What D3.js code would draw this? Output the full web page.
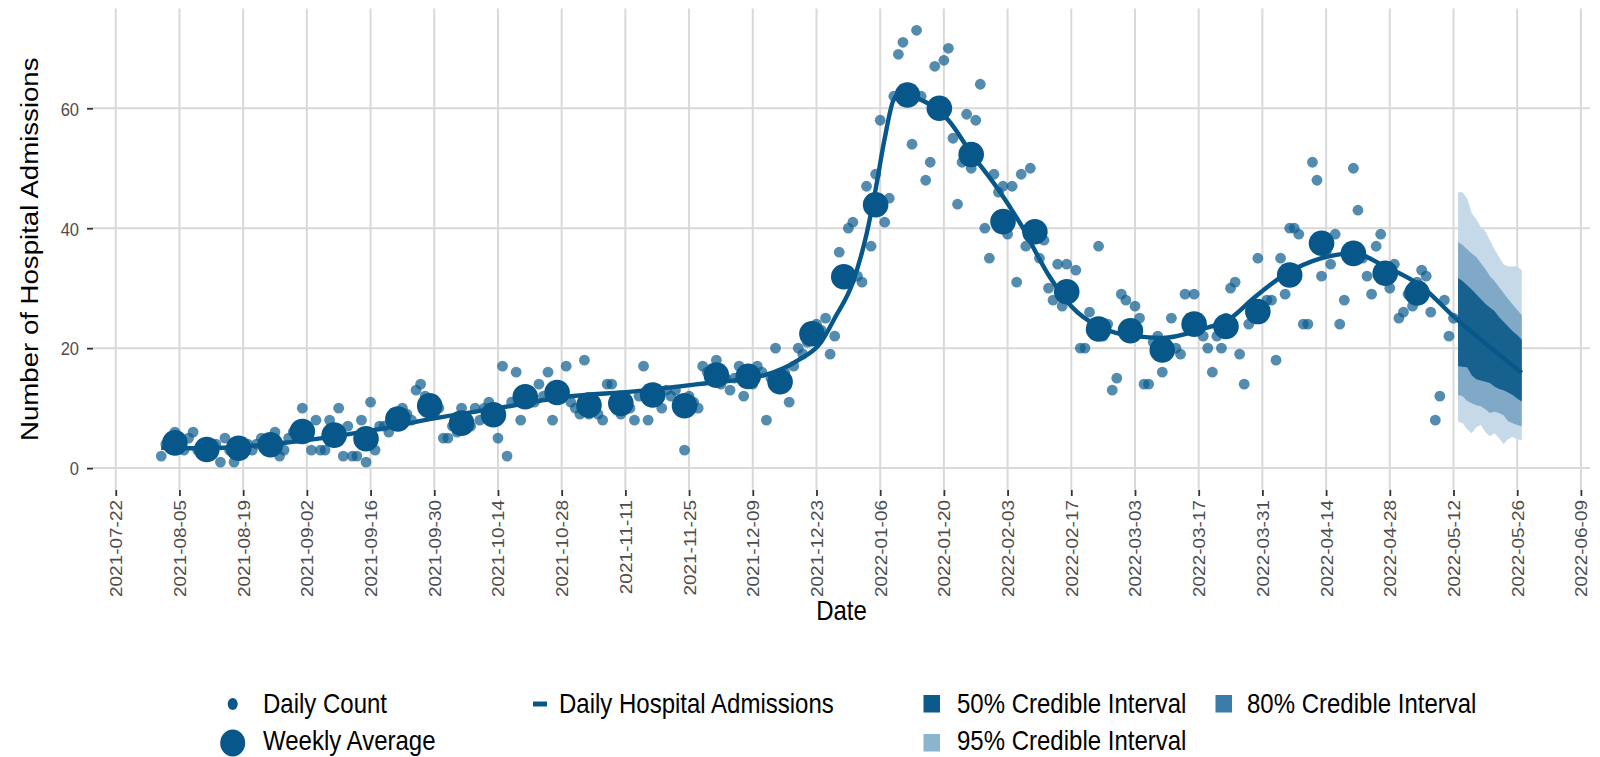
<!DOCTYPE html>
<html><head><meta charset="utf-8">
<script src="https://cdn.jsdelivr.net/npm/d3@7"></script>
<style>html,body{margin:0;padding:0;background:#fff;} svg{display:block;font-family:"Liberation Sans",Arial,sans-serif;}</style>
</head><body><svg id="c" width="1600" height="757"></svg>
<script>
// ---------------- DATA ----------------
const dailyStart = "2021-08-01";
const dailyCounts = [
  2,4,5,6,4,3,5,   6,3,3,2,3,4,1,   5,3,1,3,4,4,3,   4,5,4,3,6,2,3,
  5,6,5,10,6,3,8,  3,3,8,5,10,2,7,  2,2,8,1,11,3,7,  7,6,8,9,10,9,8,
  13,14,12,10,9,10,5, 5,7,6,10,8,7,10, 8,10,11,9,5,17,2, 11,16,8,12,12,11,14,
  12,16,8,13,12,17,11, 10,9,18,9,10,9,8, 14,14,10,9,11,10,8, 12,17,8,13,12,10,13,
  12,13,11,3,12,11,10, 17,16,15,18,14,15,13, 15,17,12,16,14,17,16, 8,15,20,14,16,11,17,
  20,19,21,22,24,23,25, 19,22,36,33,40,41,32, 31,47,37,49,58,41,45, 62,69,71,63,54,73,62,
  48,51,67,60,68,70,55, 44,51,59,50,58,64,40, 35,49,46,47,39,47,31, 49,37,50,40,35,38,30,
  28,34,27,34,30,33,20, 20,26,23,37,22,24,13, 15,29,28,22,27,25,14, 14,21,22,16,20,25,20,
  19,29,25,29,24,22,20, 16,22,20,25,30,31,19, 14,24,27,35,27,28,28, 18,35,29,40,40,39,24,
  24,51,48,32,36,34,39, 24,28,36,50,43,35,32, 29,37,39,33,30,34,25, 26,29,27,31,33,32,26,
  8,12,28,22,25
];
const weeklyStart = "2021-08-04";
const weeklyAverages = [
  4.2,3.1,3.3,3.9,6.1,5.5,4.9,8.2,10.4,7.5,
  8.9,11.9,12.6,10.5,10.8,12.2,10.4,15.5,15.3,14.4,
  22.4,31.9,43.9,62.2,60.0,52.3,41.1,39.4,29.4,23.2,
  22.9,19.7,24.0,23.6,26.1,32.2,37.5,35.8,32.5,29.2
];
const lineDates = [
  "2021-08-01","2021-08-11","2021-08-29","2021-09-14","2021-09-20","2021-09-30",
  "2021-10-14","2021-10-29","2021-11-13","2021-11-27","2021-12-12","2021-12-19",
  "2021-12-24","2021-12-27","2021-12-31","2022-01-03","2022-01-05","2022-01-07",
  "2022-01-09","2022-01-10","2022-01-15","2022-01-21","2022-01-26","2022-02-01",
  "2022-02-06","2022-02-12","2022-02-17","2022-02-23","2022-03-03","2022-03-09",
  "2022-03-17","2022-03-24","2022-03-29","2022-04-05","2022-04-13","2022-04-20",
  "2022-04-27","2022-05-05","2022-05-12","2022-05-19","2022-05-27"
];
const lineValues = [
  3.4,3.3,4.3,6.0,6.8,8.3,
  10.0,11.9,12.8,14.0,15.6,18.0,
  21.0,25.0,31.0,39.0,46.5,55.0,
  61.5,62.2,61.4,58.0,52.5,46.4,
  40.5,32.2,27.0,23.6,22.0,21.7,
  23.0,25.0,28.3,32.3,35.0,35.8,
  33.6,30.3,25.3,20.8,15.9
];
const bandStart = "2022-05-13";
const lo95 = [7.8,7.5,6.5,5.8,6.8,7.2,6.0,5.3,5.8,5.0,4.0,4.8,5.2,4.8,4.7];
const hi95 = [46.0,46.0,45.0,42.5,41.5,40.2,39.5,38.0,36.5,35.2,34.0,33.6,33.6,33.6,33.0];
const lo80 = [12.2,12.0,11.2,10.8,10.5,10.3,9.8,9.2,9.4,9.2,8.8,7.8,7.5,7.2,7.0];
const hi80 = [37.7,37.2,36.5,35.8,35.2,34.2,33.2,32.0,31.2,30.2,29.2,28.2,27.3,26.4,25.5];
const lo50 = [17.0,16.9,16.8,15.5,14.8,14.6,14.4,14.2,13.6,13.2,13.0,12.6,12.2,11.6,11.1];
const hi50 = [31.7,31.2,30.5,29.8,29.0,28.2,27.4,26.8,26.2,25.2,24.4,23.6,22.8,22.2,21.4];
const yTicks = [0,20,40,60];
const xTickLabels = [
  "2021-07-22","2021-08-05","2021-08-19","2021-09-02","2021-09-16","2021-09-30",
  "2021-10-14","2021-10-28","2021-11-11","2021-11-25","2021-12-09","2021-12-23",
  "2022-01-06","2022-01-20","2022-02-03","2022-02-17","2022-03-03","2022-03-17",
  "2022-03-31","2022-04-14","2022-04-28","2022-05-12","2022-05-26","2022-06-09"
];
const xDomainLabels = ["2021-07-17","2022-06-11"];
const yDomain = [-3.65, 76.65];

// ---------------- CHART ----------------
const parse = d3.utcParse("%Y-%m-%d");
const svg = d3.select("#c");
const P = {left:93, right:1590, top:8.4, bottom:490};
const SY = 1.15; // vertical stretch of glyphs
const C = {dark:"#07578a", pt:"#0b5b8e", grid:"#d9d9d9", tick:"#4d4d4d",
           b95:"#c5d9e8", b80:"#80a9c8", b50:"#17618f",
           l50:"#0c5a8c", l80:"#3b7da9", l95:"#8bb4cf"};

const x = d3.scaleUtc().domain(xDomainLabels.map(parse)).range([P.left, P.right]);
const y = d3.scaleLinear().domain(yDomain).range([P.bottom, P.top]);

// grid
const g = svg.append("g");
g.selectAll(".hg").data(yTicks).enter().append("line")
  .attr("x1", P.left).attr("x2", P.right)
  .attr("y1", d=>y(d)).attr("y2", d=>y(d))
  .attr("stroke", C.grid).attr("stroke-width", 2);
g.selectAll(".vg").data(xTickLabels).enter().append("line")
  .attr("x1", d=>x(parse(d))).attr("x2", d=>x(parse(d)))
  .attr("y1", P.top).attr("y2", P.bottom)
  .attr("stroke", C.grid).attr("stroke-width", 2);

// axes (ticks + labels)
const xAxis = d3.axisBottom(x).tickValues(xTickLabels.map(parse)).tickSize(6).tickSizeOuter(0)
  .tickFormat(d3.utcFormat("%Y-%m-%d"));
const xg = svg.append("g").attr("transform", `translate(0,${P.bottom})`).call(xAxis);
xg.select(".domain").remove();
xg.selectAll(".tick line").attr("stroke", "#333").attr("stroke-width", 1.8);
xg.selectAll(".tick text")
  .attr("x", 0).attr("y", 0).attr("dy", "0.36em")
  .attr("text-anchor", "end")
  .attr("font-size", 16.5).attr("fill", C.tick)
  .attr("font-family", "Liberation Sans, Arial, sans-serif")
  .attr("transform", `translate(0,10) scale(1,${SY}) rotate(-90)`);

const yAxis = d3.axisLeft(y).tickValues(yTicks).tickSize(6).tickSizeOuter(0);
const yg = svg.append("g").attr("transform", `translate(${P.left},0)`).call(yAxis);
yg.select(".domain").remove();
yg.selectAll(".tick line").attr("stroke", "#333").attr("stroke-width", 1.8);
yg.selectAll(".tick text")
  .attr("x", 0).attr("y", 0).attr("dy", "0.36em")
  .attr("font-size", 16.5).attr("fill", C.tick)
  .attr("font-family", "Liberation Sans, Arial, sans-serif")
  .attr("transform", `translate(-14,0) scale(1,${SY})`);

// titles
svg.append("text").text("Date")
  .attr("text-anchor", "middle").attr("font-size", 24).attr("fill", "#000")
  .attr("transform", `translate(${(P.left+P.right)/2},620) scale(1,${SY})`);
svg.append("text").text("Number of Hospital Admissions")
  .attr("text-anchor", "middle").attr("font-size", 24).attr("fill", "#000")
  .attr("transform", `translate(38,${(P.top+P.bottom)/2}) scale(1,${SY}) rotate(-90)`);

// forecast bands
const bandData = lo95.map((v,i)=>({
  date: d3.utcDay.offset(parse(bandStart), i),
  lo95:v, hi95:hi95[i], lo80:lo80[i], hi80:hi80[i], lo50:lo50[i], hi50:hi50[i]
}));
function band(lo, hi, col){
  svg.append("path").datum(bandData)
    .attr("d", d3.area().x(d=>x(d.date)).y0(d=>y(d[lo])).y1(d=>y(d[hi])))
    .attr("fill", col);
}
band("lo95","hi95",C.b95);
band("lo80","hi80",C.b80);
band("lo50","hi50",C.b50);

// line
const lineData = lineDates.map((d,i)=>({date:parse(d), v:lineValues[i]}));
svg.append("path").datum(lineData)
  .attr("d", d3.line().x(d=>x(d.date)).y(d=>y(d.v)).curve(d3.curveMonotoneX))
  .attr("fill","none").attr("stroke", C.dark).attr("stroke-width", 4.4)
  .attr("stroke-linejoin","round");

// daily points
const daily = dailyCounts.map((v,i)=>({date:d3.utcDay.offset(parse(dailyStart), i), v}));
svg.append("g").selectAll("circle").data(daily).enter().append("circle")
  .attr("cx", d=>x(d.date)).attr("cy", d=>y(d.v)).attr("r", 5.4)
  .attr("fill", C.pt).attr("fill-opacity", 0.7);

// weekly averages
const weekly = weeklyAverages.map((v,i)=>({date:d3.utcDay.offset(parse(weeklyStart), 7*i), v}));
svg.append("g").selectAll("circle").data(weekly).enter().append("circle")
  .attr("cx", d=>x(d.date)).attr("cy", d=>y(d.v)).attr("r", 12.8)
  .attr("fill", C.dark);

// legend
const L = svg.append("g");
function ltext(t, lx, ly){
  L.append("text").text(t).attr("font-size", 24).attr("fill", "#000")
    .attr("transform", `translate(${lx},${ly}) scale(1,${SY})`);
}
L.append("ellipse").attr("cx",232.7).attr("cy",704).attr("rx",5).attr("ry",6).attr("fill",C.dark);
ltext("Daily Count", 263, 713);
L.append("ellipse").attr("cx",232.7).attr("cy",743).attr("rx",12.5).attr("ry",13.5).attr("fill",C.dark);
ltext("Weekly Average", 263, 750);
L.append("rect").attr("x",533).attr("y",701.5).attr("width",14).attr("height",5).attr("fill",C.dark);
ltext("Daily Hospital Admissions", 559, 713);
L.append("rect").attr("x",923.5).attr("y",695).attr("width",16.5).attr("height",17.5).attr("fill",C.l50);
ltext("50% Credible Interval", 957, 713);
L.append("rect").attr("x",1215.5).attr("y",695).attr("width",16.5).attr("height",17.5).attr("fill",C.l80);
ltext("80% Credible Interval", 1247, 713);
L.append("rect").attr("x",923.5).attr("y",734).attr("width",16.5).attr("height",17.5).attr("fill",C.l95);
ltext("95% Credible Interval", 957, 750);
</script>
</body></html>
